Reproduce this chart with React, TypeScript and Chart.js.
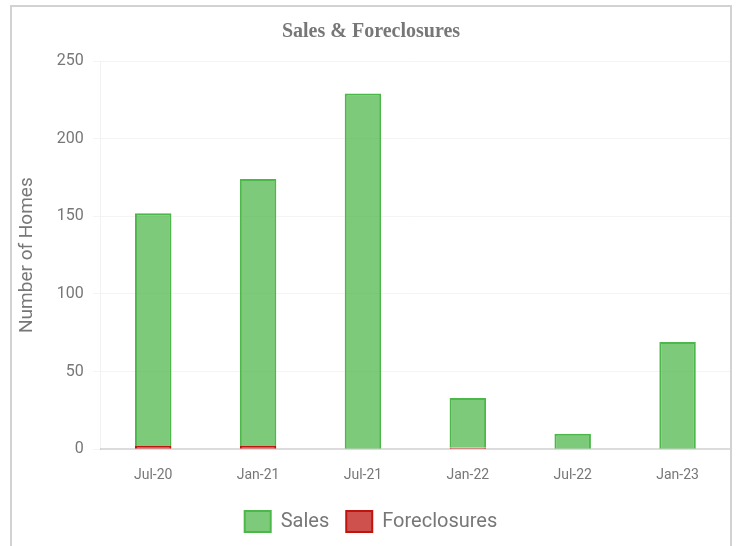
import React, { useEffect, useRef } from "react";
import { Chart, registerables } from "chart.js";

Chart.register(...registerables);

const categories: string[] = ["Jul-20", "Jan-21", "Jul-21", "Jan-22", "Jul-22", "Jan-23"];
const salesValues: number[] = [150, 172, 229, 32, 10, 69];
const foreclosureValues: number[] = [2, 2, 0, 1, 0, 0];
const yTickValues: number[] = [0, 50, 100, 150, 200, 250];

const chartTitle = "Sales & Foreclosures";
const yAxisTitle = "Number of Homes";

export default function App() {
  const canvasRef = useRef<HTMLCanvasElement | null>(null);

  useEffect(() => {
    const canvas = canvasRef.current;
    if (!canvas) return;
    const chart = new Chart(canvas, {
      type: "bar",
      data: {
        labels: categories,
        datasets: [
          {
            label: "Sales",
            data: salesValues,
            backgroundColor: "rgba(76,182,72,0.72)",
            borderColor: "#4db84a",
            borderWidth: 2,
            order: 2,
            barPercentage: 0.435,
            categoryPercentage: 0.8,
          },
          {
            label: "Foreclosures",
            data: foreclosureValues,
            backgroundColor: "rgba(192,32,28,0.78)",
            borderColor: "#c0150f",
            borderWidth: 2,
            order: 1,
            barPercentage: 0.435,
            categoryPercentage: 0.8,
          },
        ],
      },
      options: {
        animation: false,
        responsive: false,
        maintainAspectRatio: false,
        font: { family: "Roboto" },
        color: "#777",
        plugins: {
          title: {
            display: true,
            text: chartTitle,
            color: "#777",
            font: { family: "'Liberation Serif', serif", size: 20, weight: "bold" },
            padding: { top: 10, bottom: 17 },
          },
          legend: {
            position: "bottom",
            labels: {
              boxWidth: 26,
              boxHeight: 21,
              padding: 17,
              color: "#777",
              font: { family: "Roboto", size: 20 },
              sort: (a: any, b: any) => a.datasetIndex - b.datasetIndex,
            },
          },
          tooltip: { enabled: false },
        },
        scales: {
          x: {
            stacked: true,
            grid: { display: false, drawTicks: true, tickLength: 8 },
            border: { display: true, color: "#dcdcdc", width: 2 },
            ticks: {
              color: "#777",
              font: { family: "Roboto", size: 14 },
              padding: 10,
            },
          },
          y: {
            stacked: true,
            min: 0,
            max: 250,
            afterBuildTicks: (axis: any) => {
              axis.ticks = yTickValues.map((v) => ({ value: v }));
            },
            grid: { color: "rgba(0,0,0,0.045)", tickLength: 8 },
            border: { display: true, color: "rgba(0,0,0,0.05)", width: 1 },
            ticks: {
              color: "#777",
              font: { family: "Roboto", size: 16 },
              padding: 9,
            },
            title: {
              display: true,
              text: yAxisTitle,
              color: "#777",
              font: { family: "Roboto", size: 19 },
              padding: { top: 4, bottom: 9 },
            },
          },
        },
      },
    } as any);
    return () => chart.destroy();
  }, []);

  return (
    <div
      style={{
        position: "fixed",
        left: 0,
        top: 0,
        width: 736,
        height: 546,
        overflow: "hidden",
        background: "#fff",
      }}
    >
      <div
        style={{
          position: "absolute",
          left: 10,
          top: 5,
          width: 718,
          height: 600,
          border: "2px solid #d2d2d2",
          paddingTop: 3,
          boxSizing: "content-box",
        }}
      >
        <canvas ref={canvasRef} width={718} height={532} style={{ display: "block" }} />
      </div>
    </div>
  );
}
